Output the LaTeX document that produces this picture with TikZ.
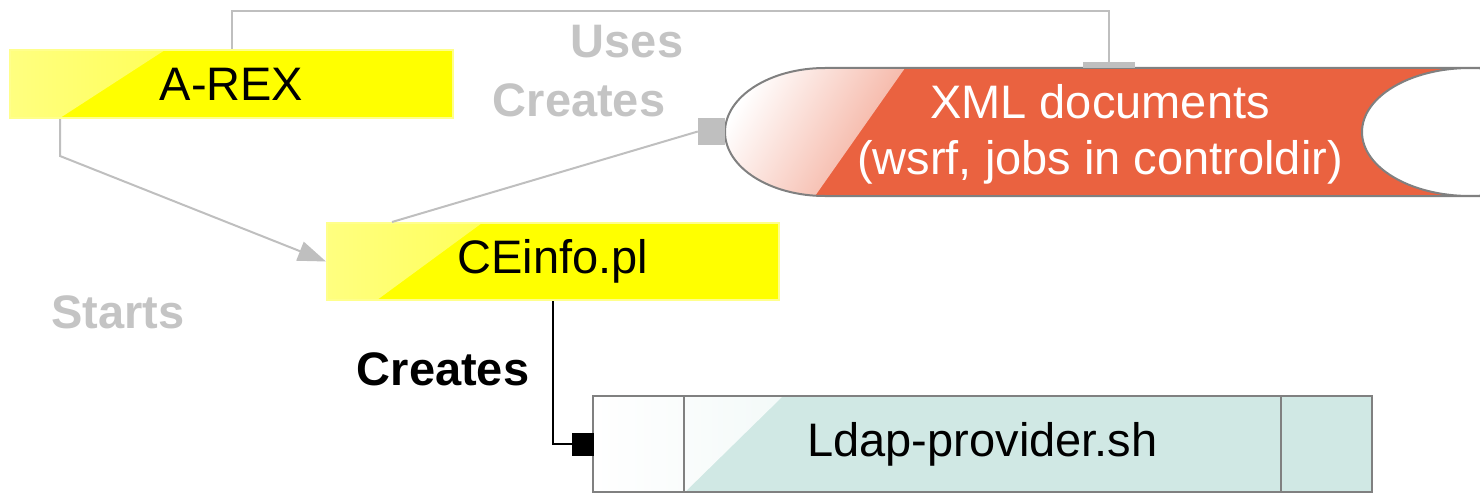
\documentclass[tikz,border=0pt]{standalone}
\usepackage{fontspec}
\setmainfont{Liberation Sans}
\usetikzlibrary{arrows.meta}
\definecolor{gline}{RGB}{191,191,191}
\definecolor{glabel}{RGB}{196,196,196}
\definecolor{xmlred}{RGB}{234,98,64}
\definecolor{ldapteal}{RGB}{208,232,228}
\definecolor{rim}{RGB}{128,128,128}
\definecolor{ceyellow}{RGB}{255,255,0}
\definecolor{ceedge}{RGB}{255,255,140}
\tikzset{
  ybox/.style={draw=ceedge, line width=2pt, fill=ceyellow, inner sep=0pt,
    font=\fontsize{47}{56}\selectfont,
    path picture={\shade[left color=ceyellow!50!white, right color=ceyellow!92!white]
      (path picture bounding box.north west) -- ([xshift=155pt]path picture bounding box.north west)
      -- ([xshift=50pt]path picture bounding box.south west) -- (path picture bounding box.south west) -- cycle;}},
  tbox/.style={draw=rim, line width=2pt, fill=ldapteal, inner sep=0pt,
    font=\fontsize{47}{56}\selectfont,
    path picture={\shade[left color=white, right color=ldapteal]
      (path picture bounding box.north west) -- ([xshift=190pt]path picture bounding box.north west)
      -- ([xshift=92pt]path picture bounding box.south west) -- (path picture bounding box.south west) -- cycle;}},
  glab/.style={text=glabel, font=\fontsize{47}{56}\selectfont\bfseries},
  blab/.style={text=black, font=\fontsize{47}{56}\selectfont\bfseries},
  gconn/.style={draw=gline, line width=2pt},
  endsq/.style={inner sep=0pt, minimum width=27pt, minimum height=27pt}
}
\begin{document}
\begin{tikzpicture}[x=1pt,y=-1pt]
  \useasboundingbox (0,0) rectangle (1480,495);
  % the stored XML documents
  \begin{scope}
    \clip (0,0) rectangle (1480,495);
    \fill[xmlred] (1490,68) -- (825,68) arc[start angle=270, end angle=90, x radius=100, y radius=64]
          -- (1490,196) -- cycle;
    \shade[left color=white, right color=xmlred!55!white, shading angle=60]
          (905,68) -- (825,68) arc[start angle=270, end angle=90, x radius=100, y radius=64]
          -- (815,196) -- cycle;
    \draw[rim, line width=2pt] (1490,68) -- (825,68) arc[start angle=270, end angle=90, x radius=100, y radius=64]
          -- (1490,196);
    \draw[rim, line width=2pt, fill=white] (1470,132) ellipse[x radius=108, y radius=64];
  \end{scope}
  \node[text=white, align=center, font=\fontsize{47}{56}\selectfont] (xml) at (1100,134)
        {XML documents\\(wsrf, jobs in controldir)};

  \node[ybox, minimum width=443pt, minimum height=68pt] (arex) at (231.5,84) {A-REX};
  \node[ybox, minimum width=452pt, minimum height=77pt] (ceinfo) at (553,261.5) {CEinfo.pl};
  \node[tbox, minimum width=779pt, minimum height=96pt] (ldap) at (982.5,444) {Ldap-provider.sh};
  \draw[rim, line width=2pt] ([xshift=92pt]ldap.north west) -- ([xshift=92pt]ldap.south west);
  \draw[rim, line width=2pt] ([xshift=-92pt]ldap.north east) -- ([xshift=-92pt]ldap.south east);

  \node[endsq, fill=gline] (sqxml) at (711.5,131.5) {};
  \node[inner sep=0pt, minimum width=52pt, minimum height=6pt, fill=gline] (barxml) at (1109,65) {};
  \node[endsq, fill=black, minimum width=22pt, minimum height=23pt] (sqldap) at (583,444) {};

  \draw[gconn] (arex.north) -- ++(0,-38) -| (barxml.north);
  \draw[gconn] ([xshift=66pt]ceinfo.north west) -- (sqxml.west);
  \draw[gconn, -{Triangle[length=28pt,width=20pt]}, gline]
        ([xshift=51pt]arex.south west) -- ++(0,37) -- (ceinfo.west);
  \draw[line width=1.5pt] (ceinfo.south) |- (sqldap.west);

  \node[glab] (uses) at (627,42) {Uses};
  \node[glab] (creates1) at (579,100) {Creates};
  \node[glab] (starts) at (118,312) {Starts};
  \node[blab] (creates2) at (443,369) {Creates};
\end{tikzpicture}
\end{document}
